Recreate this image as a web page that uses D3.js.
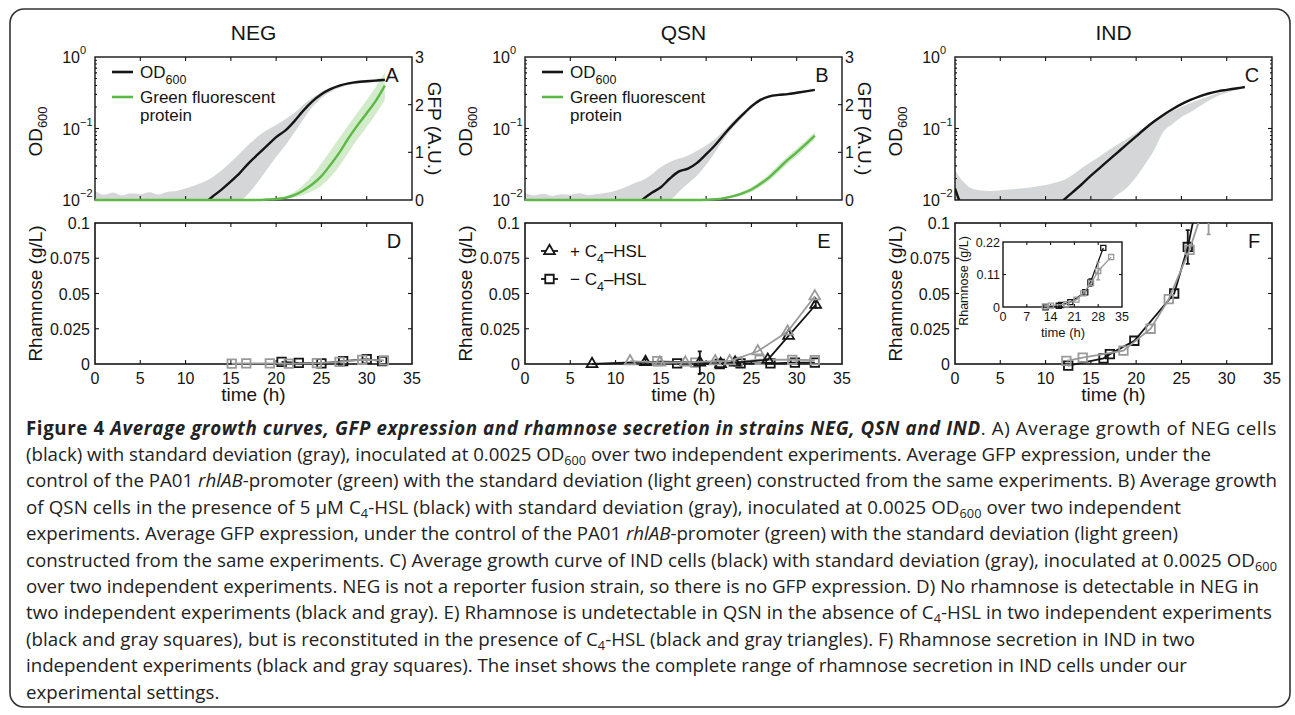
<!DOCTYPE html>
<html>
<head>
<meta charset="utf-8">
<script src="https://cdn.jsdelivr.net/npm/d3@7"></script>
<style>
html, body { margin: 0; padding: 0; background: #fff; }
svg { display: block; }
</style>
</head>
<body>
<script>
// ---- data ----
var hours = [0, 1, 2, 3, 4, 5, 6, 7, 8, 9, 10, 11, 12, 13, 14, 15, 16, 17, 18, 19, 20, 21, 22, 23, 24, 25, 26, 27, 28, 29, 30, 31, 32];

// NEG (A): OD600 mean, std band, GFP mean, GFP std band
var negOD   = [0.008, 0.008, 0.008, 0.008, 0.008, 0.008, 0.008, 0.008, 0.008, 0.008, 0.008, 0.008, 0.0089, 0.0112, 0.0141, 0.0182, 0.024, 0.0331, 0.0437, 0.0575, 0.0759, 0.0933, 0.126, 0.178, 0.24, 0.302, 0.355, 0.398, 0.427, 0.447, 0.457, 0.468, 0.479];
var negODHi = [0.0135, 0.0118, 0.0127, 0.0116, 0.0124, 0.012, 0.0128, 0.0119, 0.013, 0.0134, 0.0145, 0.016, 0.0178, 0.021, 0.026, 0.034, 0.045, 0.06, 0.078, 0.095, 0.112, 0.135, 0.165, 0.215, 0.27, 0.325, 0.375, 0.415, 0.445, 0.465, 0.48, 0.495, 0.505];
var negODLo = [0.008, 0.008, 0.008, 0.008, 0.008, 0.008, 0.008, 0.008, 0.008, 0.008, 0.008, 0.008, 0.008, 0.008, 0.008, 0.008, 0.0095, 0.0125, 0.018, 0.027, 0.04, 0.058, 0.087, 0.135, 0.2, 0.265, 0.325, 0.37, 0.405, 0.425, 0.435, 0.445, 0.455];
var negGFP   = [0, 0, 0, 0, 0, 0, 0, 0, 0, 0, 0, 0, 0, 0, 0, 0, 0, 0, 0, 0.01, 0.02, 0.045, 0.1, 0.2, 0.33, 0.5, 0.74, 1.0, 1.3, 1.57, 1.82, 2.08, 2.4];
var negGFPHi = [0, 0, 0, 0, 0, 0, 0, 0, 0, 0, 0, 0, 0, 0, 0, 0, 0, 0, 0, 0.02, 0.04, 0.08, 0.17, 0.32, 0.52, 0.77, 1.04, 1.31, 1.58, 1.84, 2.1, 2.37, 2.68];
var negGFPLo = [0, 0, 0, 0, 0, 0, 0, 0, 0, 0, 0, 0, 0, 0, 0, 0, 0, 0, 0, 0, 0.005, 0.02, 0.05, 0.11, 0.19, 0.3, 0.48, 0.72, 1.0, 1.28, 1.53, 1.8, 2.1];

// QSN (B)
var qsnOD   = [0.008, 0.008, 0.008, 0.008, 0.008, 0.008, 0.008, 0.008, 0.008, 0.008, 0.008, 0.008, 0.008, 0.0102, 0.0126, 0.0151, 0.02, 0.0251, 0.0275, 0.0331, 0.0437, 0.0589, 0.0832, 0.115, 0.155, 0.204, 0.251, 0.282, 0.295, 0.302, 0.316, 0.331, 0.347];
var qsnODHi = [0.0125, 0.0116, 0.0122, 0.0114, 0.012, 0.0118, 0.0124, 0.0117, 0.0121, 0.0126, 0.0135, 0.015, 0.017, 0.019, 0.023, 0.029, 0.034, 0.038, 0.042, 0.049, 0.058, 0.072, 0.094, 0.127, 0.168, 0.218, 0.264, 0.293, 0.306, 0.314, 0.327, 0.342, 0.358];
var qsnODLo = [0.008, 0.008, 0.008, 0.008, 0.008, 0.008, 0.008, 0.008, 0.008, 0.008, 0.008, 0.008, 0.008, 0.008, 0.008, 0.008, 0.0098, 0.013, 0.017, 0.022, 0.031, 0.047, 0.073, 0.104, 0.143, 0.191, 0.239, 0.271, 0.284, 0.291, 0.305, 0.32, 0.336];
var qsnGFP   = [0, 0, 0, 0, 0, 0, 0, 0, 0, 0, 0, 0, 0, 0, 0, 0, 0, 0, 0, 0, 0.005, 0.015, 0.04, 0.08, 0.14, 0.22, 0.34, 0.48, 0.66, 0.84, 1.0, 1.17, 1.35];
var qsnGFPHi = [0, 0, 0, 0, 0, 0, 0, 0, 0, 0, 0, 0, 0, 0, 0, 0, 0, 0, 0, 0, 0.01, 0.025, 0.06, 0.11, 0.18, 0.27, 0.4, 0.55, 0.74, 0.92, 1.08, 1.25, 1.42];
var qsnGFPLo = [0, 0, 0, 0, 0, 0, 0, 0, 0, 0, 0, 0, 0, 0, 0, 0, 0, 0, 0, 0, 0, 0.008, 0.025, 0.055, 0.1, 0.17, 0.28, 0.41, 0.58, 0.76, 0.92, 1.09, 1.28];

// IND (C)
var indOD   = [0.0145, 0.008, 0.008, 0.008, 0.008, 0.008, 0.008, 0.008, 0.008, 0.008, 0.008, 0.008, 0.01, 0.0129, 0.0166, 0.0219, 0.0282, 0.0363, 0.0468, 0.0603, 0.0776, 0.1, 0.126, 0.155, 0.186, 0.219, 0.251, 0.282, 0.309, 0.331, 0.347, 0.363, 0.38];
var indODHi = [0.026, 0.0175, 0.0142, 0.0136, 0.0134, 0.0137, 0.014, 0.0144, 0.0148, 0.0154, 0.0162, 0.0174, 0.019, 0.0225, 0.028, 0.034, 0.041, 0.05, 0.06, 0.072, 0.087, 0.104, 0.125, 0.148, 0.175, 0.2, 0.228, 0.255, 0.28, 0.31, 0.335, 0.36, 0.39];
var indODLo = [0.008, 0.008, 0.008, 0.008, 0.008, 0.008, 0.008, 0.008, 0.008, 0.008, 0.008, 0.008, 0.008, 0.008, 0.008, 0.008, 0.008, 0.0095, 0.012, 0.015, 0.021, 0.032, 0.05, 0.09, 0.115, 0.145, 0.17, 0.205, 0.245, 0.285, 0.315, 0.345, 0.372];

// rhamnose (g/L), two experiments each
var negRhaTimeBlack = [20.6, 22.5, 25.0, 27.4, 30.0, 31.7];
var negRhaBlack     = [0.0015, 0.0008, 0.0005, 0.002, 0.0035, 0.002];
var negRhaTimeGray  = [15.1, 16.7, 19.3, 21.4, 24.5, 27.0, 29.5, 31.9];
var negRhaGray      = [0.0003, 0.0005, 0.0005, 0.0003, 0.0006, 0.0015, 0.003, 0.0025];

var qsnPlusTimeBlack = [7.4, 13.3, 19.3, 21.6, 23.2, 26.8, 29.1, 32.1];
var qsnPlusBlack     = [0, 0.0015, 0.001, 0, 0.001, 0.003, 0.02, 0.042];
var qsnPlusErrBlack  = [0, 0.002, 0.008, 0, 0, 0, 0, 0.002];
var qsnPlusTimeGray  = [11.6, 14.9, 17.7, 21.0, 22.6, 25.7, 29.0, 32.0];
var qsnPlusGray      = [0.002, 0.001, 0.001, 0.002, 0.002, 0.009, 0.023, 0.048];
var qsnMinusTimeBlack = [16.8, 21.5, 23.8, 27.1, 29.8, 32.0];
var qsnMinusBlack     = [0.0005, 0, 0.0005, 0.0005, 0.001, 0.001];
var qsnMinusTimeGray  = [14.6, 18.8, 23.5, 25.9, 29.5, 32.0];
var qsnMinusGray      = [0.002, 0.001, 0.0015, 0.003, 0.003, 0.0028];

var indRhaTimeBlack = [12.5, 16.4, 17.1, 19.8, 24.2, 25.7, 29.5];
var indRhaBlack     = [-0.0012, 0.004, 0.007, 0.0165, 0.05, 0.083, 0.2];
var indRhaErrBlack  = [0, 0, 0, 0, 0, 0.012, 0];
var indRhaTimeGray  = [12.3, 14.1, 18.6, 21.6, 23.6, 25.9, 28.0, 31.8];
var indRhaGray      = [0.0022, 0.0045, 0.0095, 0.025, 0.046, 0.081, 0.122, 0.169];
var indRhaErrGray   = [0, 0, 0, 0, 0, 0, 0.03, 0];

// labels and ticks
var strains = ["NEG", "QSN", "IND"];
var topLetters = ["A", "B", "C"];
var botLetters = ["D", "E", "F"];
var xTicks = [0, 5, 10, 15, 20, 25, 30, 35];
var gfpTicks = [0, 1, 2, 3];
var odDecades = [1, 0.1, 0.01];
var rhaTicks = [0, 0.025, 0.05, 0.075, 0.1];
var rhaTickLabels = ["0", "0.025", "0.05", "0.075", "0.1"];
var insetXTicks = [0, 7, 14, 21, 28, 35];
var insetYTicks = [0, 0.11, 0.22];

var captionLines = [
  [["Figure 4 ", "b"], ["Average growth curves, GFP expression and rhamnose secretion in strains NEG, QSN and IND", "bi"], [". A) Average growth of NEG cells", ""]],
  [["(black) with standard deviation (gray), inoculated at 0.0025 OD", ""], ["600", "sub"], [" over two independent experiments. Average GFP expression, under the", ""]],
  [["control of the PA01 ", ""], ["rhlAB", "i"], ["-promoter (green) with the standard deviation (light green) constructed from the same experiments. B) Average growth", ""]],
  [["of QSN cells in the presence of 5 \u03bcM C", ""], ["4", "sub"], ["-HSL (black) with standard deviation (gray), inoculated at 0.0025 OD", ""], ["600", "sub"], [" over two independent", ""]],
  [["experiments. Average GFP expression, under the control of the PA01 ", ""], ["rhlAB", "i"], ["-promoter (green) with the standard deviation (light green)", ""]],
  [["constructed from the same experiments. C) Average growth curve of IND cells (black) with standard deviation (gray), inoculated at 0.0025 OD", ""], ["600", "sub"]],
  [["over two independent experiments. NEG is not a reporter fusion strain, so there is no GFP expression. D) No rhamnose is detectable in NEG in", ""]],
  [["two independent experiments (black and gray). E) Rhamnose is undetectable in QSN in the absence of C", ""], ["4", "sub"], ["-HSL in two independent experiments", ""]],
  [["(black and gray squares), but is reconstituted in the presence of C", ""], ["4", "sub"], ["-HSL (black and gray triangles). F) Rhamnose secretion in IND in two", ""]],
  [["independent experiments (black and gray squares). The inset shows the complete range of rhamnose secretion in IND cells under our", ""]],
  [["experimental settings.", ""]]
];

// ---- layout ----
var W = 1295, H = 715;
var FONT = "'Liberation Sans', Arial, Helvetica, sans-serif";
var INK = "#151515", GRAY = "#9a9a9a", BAND = "#d5d6d8", GREEN = "#5db846";
var panelLeft = [95, 525, 955], plotW = 317;
var topTop = 57, topBot = 200, botTop = 223, botBot = 364;
var captionEnd = [1277, 1211, 1277, 1181, 1178, 1277, 1259, 1272, 1195, 1187, 211];

var svg = d3.select("body").append("svg")
    .attr("width", W).attr("height", H)
    .style("font-family", FONT);
var defs = svg.append("defs");

svg.append("rect")
    .attr("x", 10).attr("y", 9).attr("width", 1280).attr("height", 698).attr("rx", 14)
    .attr("fill", "none").attr("stroke", "#333").attr("stroke-width", 1.6);

function txt(g, x, y, s, size, anchor) {
    return g.append("text")
        .attr("x", x).attr("y", y)
        .attr("font-size", size)
        .attr("text-anchor", anchor || "start")
        .attr("fill", INK)
        .text(s);
}

function tick(g, x1, y1, x2, y2) {
    g.append("line").attr("x1", x1).attr("y1", y1).attr("x2", x2).attr("y2", y2)
        .attr("stroke", INK).attr("stroke-width", 1.1);
}

// ---- top row: growth and GFP ----
var topSets = [
    { od: negOD, hi: negODHi, lo: negODLo, gfp: negGFP, ghi: negGFPHi, glo: negGFPLo },
    { od: qsnOD, hi: qsnODHi, lo: qsnODLo, gfp: qsnGFP, ghi: qsnGFPHi, glo: qsnGFPLo },
    { od: indOD, hi: indODHi, lo: indODLo }
];

topSets.forEach(function (s, i) {
    var x0 = panelLeft[i], x1 = x0 + plotW;
    var x = d3.scaleLinear().domain([0, 35]).range([x0, x1]);
    var y = d3.scaleLog().domain([0.01, 1]).range([topBot, topTop]);
    var yg = d3.scaleLinear().domain([0, 3]).range([topBot, topTop]);
    var g = svg.append("g");

    defs.append("clipPath").attr("id", "ct" + i).append("rect")
        .attr("x", x0).attr("y", topTop).attr("width", plotW).attr("height", topBot - topTop);

    var rows = hours.map(function (t, k) {
        return { t: t, od: s.od[k], hi: s.hi[k], lo: s.lo[k],
                 gfp: s.gfp ? s.gfp[k] : 0, ghi: s.gfp ? s.ghi[k] : 0, glo: s.gfp ? s.glo[k] : 0 };
    });

    var bands = g.append("g").attr("clip-path", "url(#ct" + i + ")");
    bands.append("path").datum(rows)
        .attr("fill", BAND)
        .attr("d", d3.area().curve(d3.curveMonotoneX)
            .x(function (d) { return x(d.t); })
            .y0(function (d) { return y(d.lo); })
            .y1(function (d) { return y(d.hi); }));
    if (s.gfp) {
        bands.append("path").datum(rows)
            .attr("fill", GREEN).attr("fill-opacity", 0.28)
            .attr("d", d3.area().curve(d3.curveMonotoneX)
                .x(function (d) { return x(d.t); })
                .y0(function (d) { return yg(d.glo); })
                .y1(function (d) { return yg(d.ghi); }));
    }

    // frame and inner ticks
    g.append("rect").attr("x", x0).attr("y", topTop).attr("width", plotW).attr("height", topBot - topTop)
        .attr("fill", "none").attr("stroke", INK).attr("stroke-width", 1.4);
    xTicks.slice(1, -1).forEach(function (t) {
        tick(g, x(t), topBot, x(t), topBot - 4);
        tick(g, x(t), topTop, x(t), topTop + 4);
    });
    y.ticks().forEach(function (v) {
        if (v <= 0.01 || v >= 1) return;
        var len = odDecades.indexOf(v) >= 0 ? 4 : 2;
        tick(g, x0, y(v), x0 + len, y(v));
        if (!s.gfp) tick(g, x1, y(v), x1 - len, y(v));
    });
    if (s.gfp) {
        gfpTicks.slice(1, -1).forEach(function (v) { tick(g, x1, yg(v), x1 - 4, yg(v)); });
        gfpTicks.forEach(function (v) { txt(g, x1 + 3, yg(v) + 6, String(v), 16); });
    }

    // lines
    g.append("path").datum(rows).attr("clip-path", "url(#ct" + i + ")")
        .attr("fill", "none").attr("stroke", INK).attr("stroke-width", 2.4)
        .attr("d", d3.line().curve(d3.curveMonotoneX)
            .x(function (d) { return x(d.t); })
            .y(function (d) { return y(d.od); }));
    if (s.gfp) {
        g.append("path").datum(rows)
            .attr("fill", "none").attr("stroke", GREEN).attr("stroke-width", 2.4)
            .attr("d", d3.line().curve(d3.curveMonotoneX)
                .x(function (d) { return x(d.t); })
                .y(function (d) { return yg(d.gfp); }));
    }

    // decade labels 10^n
    odDecades.forEach(function (v) {
        var e = Math.round(Math.log10(v));
        txt(g, x0 - 15, y(v) + 6, "10", 16, "end");
        txt(g, x0 - 15, y(v) - 3, e === 0 ? "0" : "\u2212" + Math.abs(e), 11);
    });

    txt(g, (x0 + x1) / 2, 40, strains[i], 21, "middle");
    txt(g, x1 - 20, 82, topLetters[i], 20, "middle");

    var odLab = g.append("text")
        .attr("transform", "translate(" + (x0 - 60) + "," + ((topTop + topBot) / 2 + 3) + ") rotate(-90)")
        .attr("text-anchor", "middle").attr("dominant-baseline", "central")
        .attr("font-size", 19).attr("fill", INK);
    odLab.append("tspan").text("OD");
    odLab.append("tspan").attr("font-size", 13).attr("dy", 7).text("600");

    if (s.gfp) {
        g.append("text")
            .attr("transform", "translate(" + (x1 + 22) + "," + (topTop + topBot) / 2 + ") rotate(90)")
            .attr("text-anchor", "middle").attr("dominant-baseline", "central")
            .attr("font-size", 19).attr("fill", INK)
            .text("GFP (A.U.)");

        // legend
        g.append("line").attr("x1", x0 + 17).attr("x2", x0 + 38).attr("y1", 72).attr("y2", 72)
            .attr("stroke", INK).attr("stroke-width", 2.6);
        var l1 = txt(g, x0 + 45, 78, "", 17);
        l1.append("tspan").text("OD");
        l1.append("tspan").attr("font-size", 12.5).attr("dy", 6).text("600");
        g.append("line").attr("x1", x0 + 17).attr("x2", x0 + 38).attr("y1", 97).attr("y2", 97)
            .attr("stroke", GREEN).attr("stroke-width", 2.6);
        txt(g, x0 + 45, 103, "Green fluorescent", 17);
        txt(g, x0 + 45, 121, "protein", 17);
    }
});

// ---- bottom row: rhamnose ----
var markerSize = { sq: 72, tri: 50 };
var insetMarkerSize = { sq: 26, tri: 20 };

function drawSeries(g, x, y, s, sizes, lw) {
    var pts = s.t.map(function (t, k) { return { t: t, v: s.v[k], e: s.e ? s.e[k] : 0 }; });
    g.append("path").datum(pts)
        .attr("fill", "none").attr("stroke", s.color).attr("stroke-width", lw)
        .attr("d", d3.line().x(function (d) { return x(d.t); }).y(function (d) { return y(d.v); }));
    g.selectAll(null).data(pts.filter(function (d) { return d.e > 0; })).enter().append("path")
        .attr("fill", "none").attr("stroke", s.color).attr("stroke-width", lw)
        .attr("d", function (d) {
            var cx = x(d.t), a = y(d.v - d.e), b = y(d.v + d.e);
            return "M" + (cx - 2) + "," + a + "H" + (cx + 2) + "M" + cx + "," + a + "V" + b +
                   "M" + (cx - 2) + "," + b + "H" + (cx + 2);
        });
    g.selectAll(null).data(pts).enter().append("path")
        .attr("transform", function (d) { return "translate(" + x(d.t) + "," + y(d.v) + ")"; })
        .attr("d", d3.symbol().type(s.shape === "tri" ? d3.symbolTriangle : d3.symbolSquare).size(sizes[s.shape]))
        .attr("fill", "none").attr("stroke", s.color).attr("stroke-width", lw);
}

var botSets = [
    [ { t: negRhaTimeBlack, v: negRhaBlack, color: INK, shape: "sq" },
      { t: negRhaTimeGray, v: negRhaGray, color: GRAY, shape: "sq" } ],
    [ { t: qsnMinusTimeBlack, v: qsnMinusBlack, color: INK, shape: "sq" },
      { t: qsnMinusTimeGray, v: qsnMinusGray, color: GRAY, shape: "sq" },
      { t: qsnPlusTimeBlack, v: qsnPlusBlack, e: qsnPlusErrBlack, color: INK, shape: "tri" },
      { t: qsnPlusTimeGray, v: qsnPlusGray, color: GRAY, shape: "tri" } ],
    [ { t: indRhaTimeBlack, v: indRhaBlack, e: indRhaErrBlack, color: INK, shape: "sq" },
      { t: indRhaTimeGray, v: indRhaGray, e: indRhaErrGray, color: GRAY, shape: "sq" } ]
];

botSets.forEach(function (series, i) {
    var x0 = panelLeft[i], x1 = x0 + plotW;
    var x = d3.scaleLinear().domain([0, 35]).range([x0, x1]);
    var y = d3.scaleLinear().domain([0, 0.1]).range([botBot, botTop]);
    var g = svg.append("g");

    g.append("rect").attr("x", x0).attr("y", botTop).attr("width", plotW).attr("height", botBot - botTop)
        .attr("fill", "none").attr("stroke", INK).attr("stroke-width", 1.6);
    xTicks.slice(1, -1).forEach(function (t) {
        tick(g, x(t), botBot, x(t), botBot - 4);
        tick(g, x(t), botTop, x(t), botTop + 4);
    });
    rhaTicks.slice(1, -1).forEach(function (v) {
        tick(g, x0, y(v), x0 + 4, y(v));
        tick(g, x1, y(v), x1 - 4, y(v));
    });
    rhaTicks.forEach(function (v, k) { txt(g, x0 - 5, y(v) + 6, rhaTickLabels[k], 16, "end"); });
    xTicks.forEach(function (t) { txt(g, x(t), botBot + 19.5, String(t), 16, "middle"); });
    txt(g, (x0 + x1) / 2, 401, "time (h)", 19, "middle");
    g.append("text")
        .attr("transform", "translate(" + (x0 - 60) + "," + (botTop + botBot) / 2 + ") rotate(-90)")
        .attr("text-anchor", "middle").attr("dominant-baseline", "central")
        .attr("font-size", 19).attr("fill", INK)
        .text("Rhamnose (g/L)");
    txt(g, x1 - 18, 248, botLetters[i], 20, "middle");

    defs.append("clipPath").attr("id", "cb" + i).append("rect")
        .attr("x", x0 - 10).attr("y", botTop).attr("width", plotW + 20).attr("height", 60 + botBot - botTop);
    var dg = g.append("g").attr("clip-path", "url(#cb" + i + ")");
    series.forEach(function (s) { drawSeries(dg, x, y, s, markerSize, 1.8); });

    if (i === 1) {
        // legend
        var lx = x0 + 16;
        [[251, "tri", "+ C"], [279, "sq", "\u2212 C"]].forEach(function (r) {
            g.append("line").attr("x1", lx).attr("x2", lx + 17).attr("y1", r[0]).attr("y2", r[0])
                .attr("stroke", INK).attr("stroke-width", 1.8);
            g.append("path").attr("transform", "translate(" + (lx + 8.5) + "," + r[0] + ")")
                .attr("d", d3.symbol().type(r[1] === "tri" ? d3.symbolTriangle : d3.symbolSquare).size(markerSize[r[1]]))
                .attr("fill", "#fff").attr("stroke", INK).attr("stroke-width", 1.8);
            var t = txt(g, x0 + 45, r[0] + 6, "", 17);
            t.append("tspan").text(r[2]);
            t.append("tspan").attr("font-size", 12.5).attr("dy", 6).text("4");
            t.append("tspan").attr("dy", -6).text("\u2013HSL");
        });
    }

    if (i === 2) {
        // inset with the full range
        var ix = d3.scaleLinear().domain([0, 35]).range([1003, 1122]);
        var iy = d3.scaleLinear().domain([0, 0.22]).range([307, 242]);
        var ig = g.append("g");
        ig.append("rect").attr("x", 1003).attr("y", 242).attr("width", 119).attr("height", 65)
            .attr("fill", "#fff").attr("stroke", INK).attr("stroke-width", 1.4);
        insetXTicks.slice(1, -1).forEach(function (t) {
            tick(ig, ix(t), 307, ix(t), 304);
            tick(ig, ix(t), 242, ix(t), 245);
        });
        tick(ig, 1003, iy(0.11), 1006, iy(0.11));
        tick(ig, 1122, iy(0.11), 1119, iy(0.11));
        insetXTicks.forEach(function (t) { txt(ig, ix(t), 320.5, String(t), 12.5, "middle"); });
        insetYTicks.forEach(function (v) { txt(ig, 1000, iy(v) + 4.5, String(v), 12.5, "end"); });
        txt(ig, 1063, 337, "time (h)", 13, "middle");
        ig.append("text")
            .attr("transform", "translate(964,281) rotate(-90)")
            .attr("text-anchor", "middle").attr("dominant-baseline", "central")
            .attr("font-size", 12.5).attr("fill", INK)
            .text("Rhamnose (g/L)");
        series.forEach(function (s) { drawSeries(ig, ix, iy, s, insetMarkerSize, 1.3); });
    }
});

// ---- caption ----
var cap = svg.append("g")
    .attr("font-family", "'Open Sans', 'Noto Sans', sans-serif")
    .attr("fill", "#222");

function writeCaption(size) {
    cap.selectAll("*").remove();
    return captionLines.map(function (segs, i) {
        var t = cap.append("text").attr("x", 26).attr("y", 434.5 + i * 26.4).attr("font-size", size);
        var wasSub = false;
        segs.forEach(function (s) {
            var sp = t.append("tspan").text(s[0]);
            if (s[1] === "b") sp.attr("font-weight", "bold");
            if (s[1] === "bi") sp.attr("font-weight", "bold").attr("font-style", "italic");
            if (s[1] === "i") sp.attr("font-style", "italic");
            if (s[1] === "sub") { sp.attr("font-size", size * 0.68).attr("dy", 4); wasSub = true; }
            else if (wasSub) { sp.attr("dy", -4); wasSub = false; }
        });
        return t;
    });
}

// size the caption so the longest regular line spans the same width as in the figure
var probe = writeCaption(16);
var capSize = 16 * (captionEnd[2] - 26) / probe[2].node().getComputedTextLength();
var capTexts = writeCaption(capSize);
capTexts.forEach(function (t, i) {
    if (i === captionLines.length - 1) return;
    var n = t.text().length;
    var w = t.node().getComputedTextLength();
    t.style("letter-spacing", ((captionEnd[i] - 26 - w) / n) + "px");
});
</script>
</body>
</html>
